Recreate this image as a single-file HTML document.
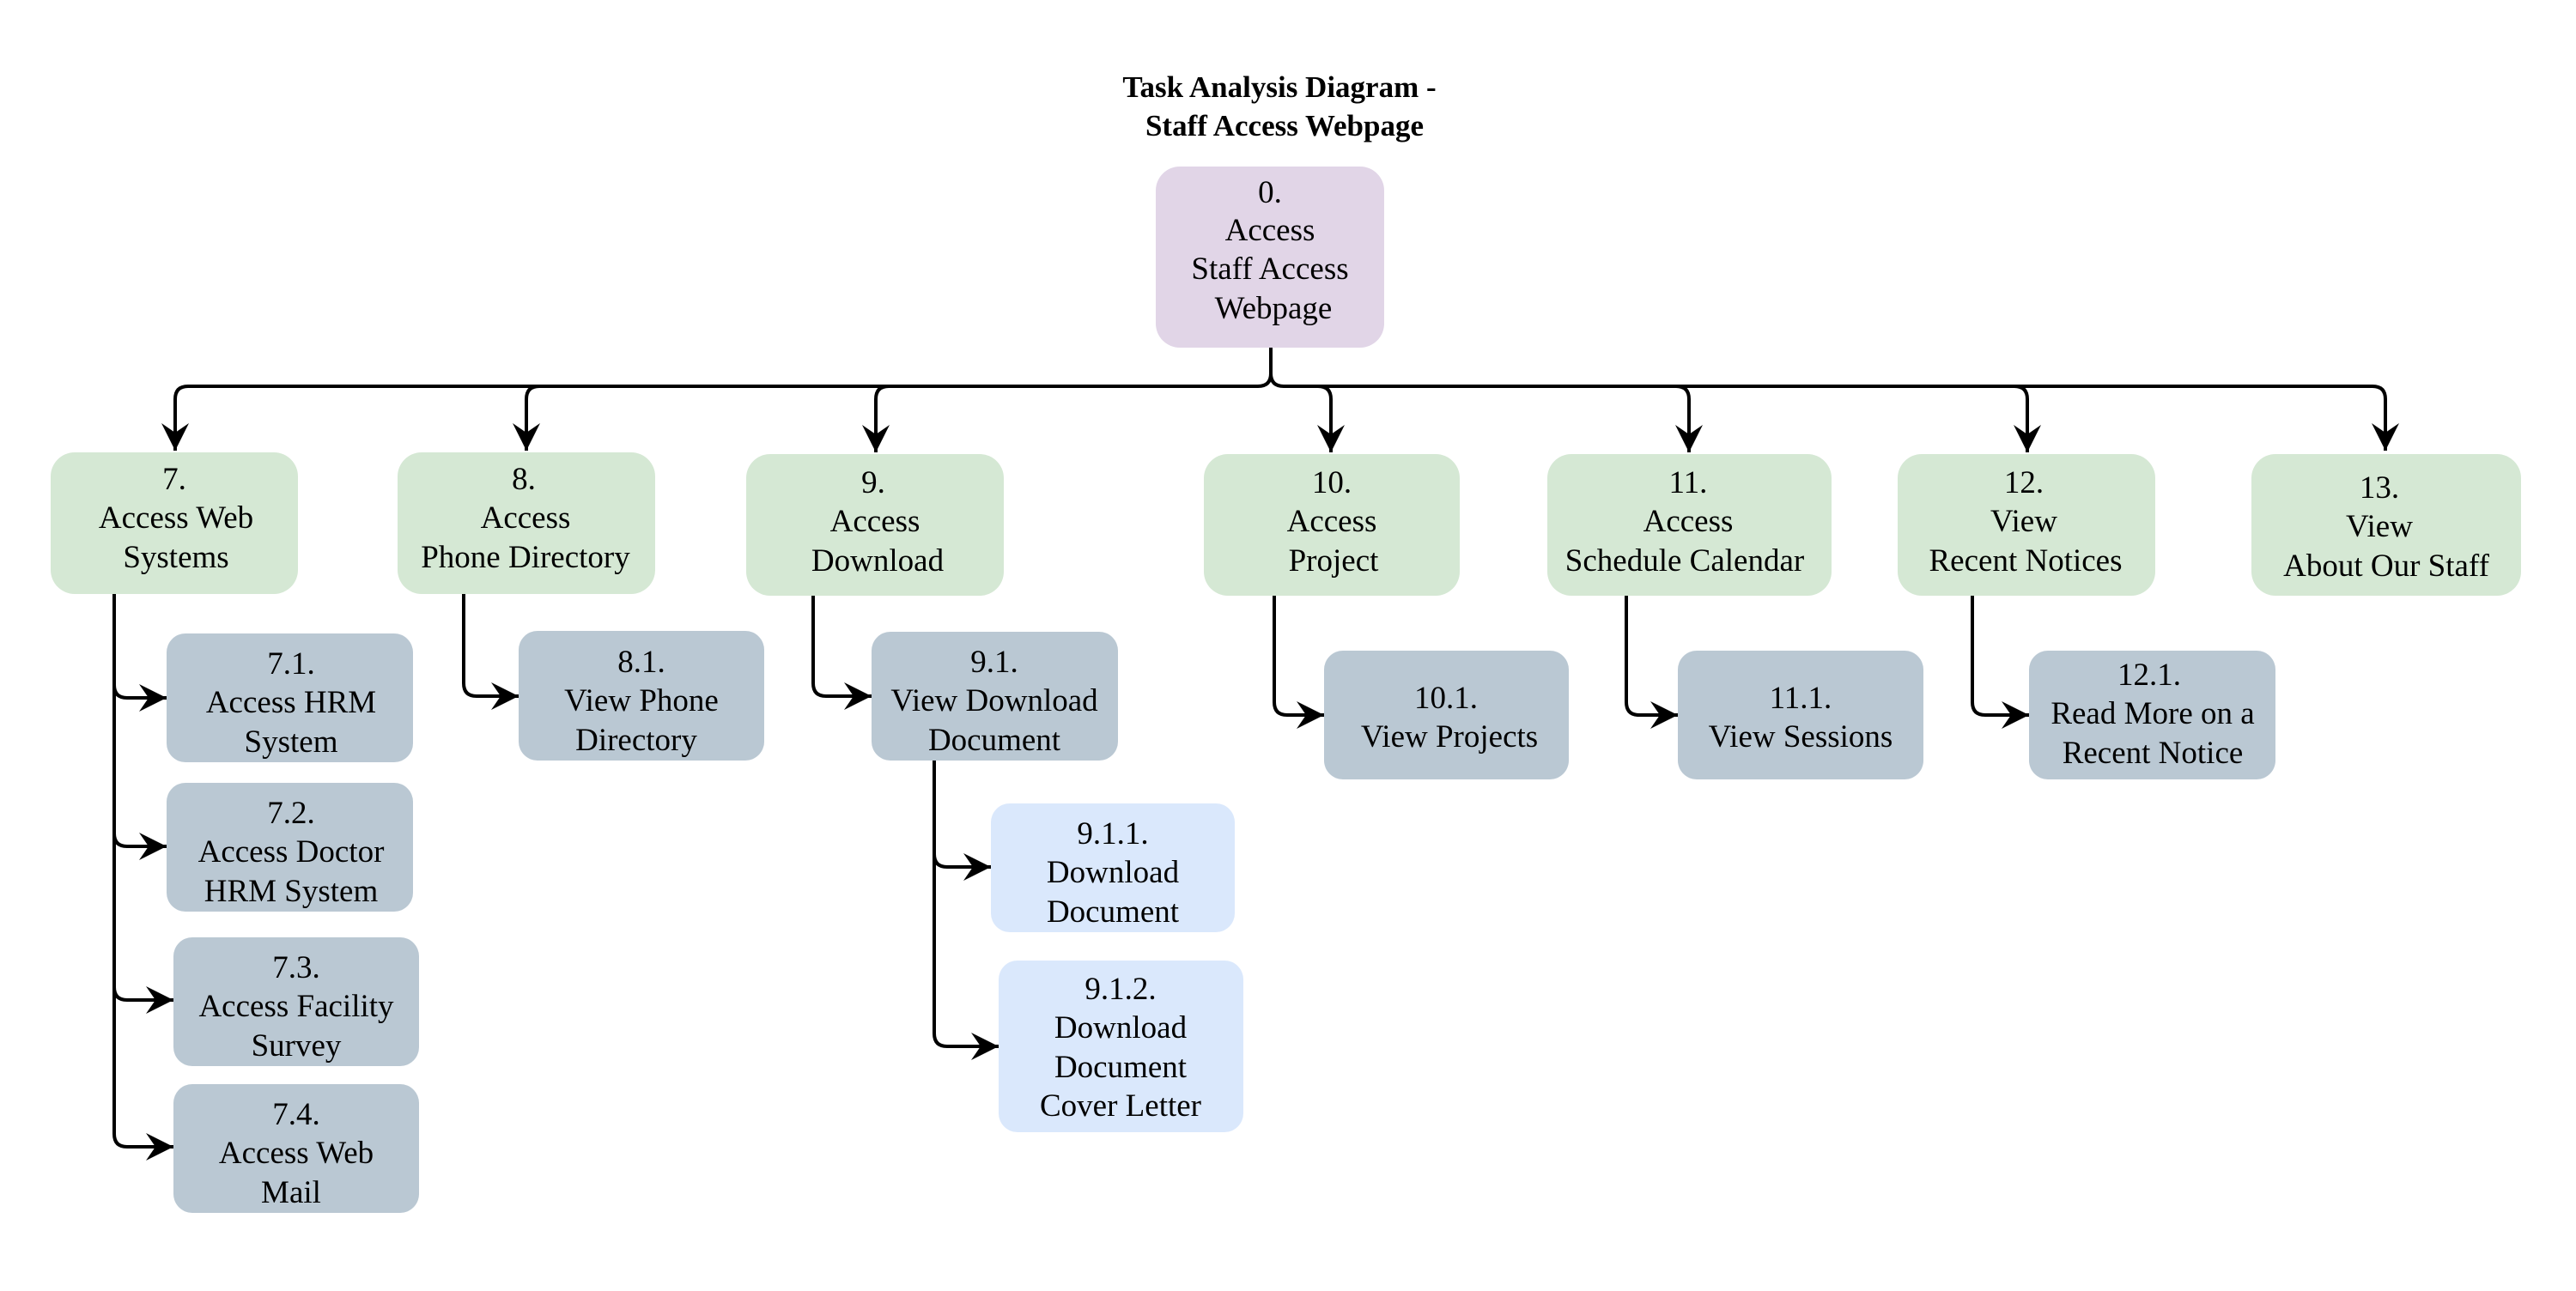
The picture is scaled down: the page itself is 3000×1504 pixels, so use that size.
<!DOCTYPE html>
<html><head><meta charset="utf-8"><style>
html,body{margin:0;padding:0;background:#fff;}
svg{display:block;}
svg text{font-family:"Liberation Serif","Noto Serif CJK SC","Times New Roman",serif;fill:#000;}
</style></head><body>
<svg width="3000" height="1504" viewBox="0 0 3000 1504" xmlns="http://www.w3.org/2000/svg">
<defs>
<marker id="ad" markerWidth="36" markerHeight="36" refX="0" refY="0" orient="auto" markerUnits="userSpaceOnUse" viewBox="-36 -18 36 36">
<path d="M0,0 L-32,-16 L-21,0 L-32,16 Z" fill="#000"/>
</marker>
</defs>
<g font-size="35" font-weight="bold" text-anchor="middle">
<text x="1490" y="113">Task Analysis Diagram -</text>
<text x="1496" y="158">Staff Access Webpage</text>
</g>

<g fill="none" stroke="#000" stroke-width="4">
<path d="M1480,405 V435 Q1480,450 1465,450 H219 Q204,450 204,465 V525" marker-end="url(#ad)"/>
<path d="M1480,435 Q1480,450 1495,450 H2763 Q2778,450 2778,465 V525" marker-end="url(#ad)"/>
<path d="M628,450 Q613,450 613,465 V525" marker-end="url(#ad)"/>
<path d="M1035,450 Q1020,450 1020,465 V527" marker-end="url(#ad)"/>
<path d="M1535,450 Q1550,450 1550,465 V527" marker-end="url(#ad)"/>
<path d="M1952,450 Q1967,450 1967,465 V527" marker-end="url(#ad)"/>
<path d="M2346,450 Q2361,450 2361,465 V527" marker-end="url(#ad)"/>

<path d="M133,691 V798 Q133,813 148,813 H194" marker-end="url(#ad)"/>
<path d="M133,798 V971 Q133,986 148,986 H194" marker-end="url(#ad)"/>
<path d="M133,971 V1150 Q133,1165 148,1165 H202" marker-end="url(#ad)"/>
<path d="M133,1150 V1321 Q133,1336 148,1336 H202" marker-end="url(#ad)"/>

<path d="M540,691 V796 Q540,811 555,811 H604" marker-end="url(#ad)"/>
<path d="M947,694 V796 Q947,811 962,811 H1015" marker-end="url(#ad)"/>
<path d="M1088,886 V995 Q1088,1010 1103,1010 H1154" marker-end="url(#ad)"/>
<path d="M1088,995 V1204 Q1088,1219 1103,1219 H1163" marker-end="url(#ad)"/>
<path d="M1484,694 V818 Q1484,833 1499,833 H1542" marker-end="url(#ad)"/>
<path d="M1894,694 V818 Q1894,833 1909,833 H1954" marker-end="url(#ad)"/>
<path d="M2297,694 V818 Q2297,833 2312,833 H2363" marker-end="url(#ad)"/>
</g>

<g>
<rect x="1346" y="194" width="266" height="211" rx="28" fill="#e1d5e7"/>
<rect x="59" y="527" width="288" height="165" rx="28" fill="#d5e8d4"/>
<rect x="463" y="527" width="300" height="165" rx="28" fill="#d5e8d4"/>
<rect x="869" y="529" width="300" height="165" rx="28" fill="#d5e8d4"/>
<rect x="1402" y="529" width="298" height="165" rx="28" fill="#d5e8d4"/>
<rect x="1802" y="529" width="331" height="165" rx="28" fill="#d5e8d4"/>
<rect x="2210" y="529" width="300" height="165" rx="28" fill="#d5e8d4"/>
<rect x="2622" y="529" width="314" height="165" rx="28" fill="#d5e8d4"/>

<rect x="194" y="738" width="287" height="150" rx="22" fill="#bac8d3"/>
<rect x="194" y="912" width="287" height="150" rx="22" fill="#bac8d3"/>
<rect x="202" y="1092" width="286" height="150" rx="22" fill="#bac8d3"/>
<rect x="202" y="1263" width="286" height="150" rx="22" fill="#bac8d3"/>
<rect x="604" y="735" width="286" height="151" rx="22" fill="#bac8d3"/>
<rect x="1015" y="736" width="287" height="150" rx="22" fill="#bac8d3"/>
<rect x="1154" y="936" width="284" height="150" rx="22" fill="#dae8fc"/>
<rect x="1163" y="1119" width="285" height="200" rx="22" fill="#dae8fc"/>
<rect x="1542" y="758" width="285" height="150" rx="22" fill="#bac8d3"/>
<rect x="1954" y="758" width="286" height="150" rx="22" fill="#bac8d3"/>
<rect x="2363" y="758" width="287" height="150" rx="22" fill="#bac8d3"/>
</g>

<g font-size="37" text-anchor="middle">
<text x="1479" y="236">0.</text><text x="1479" y="280">Access</text><text x="1479" y="325">Staff Access</text><text x="1483" y="371">Webpage</text>

<text x="203" y="570">7.</text><text x="205" y="615">Access Web</text><text x="205" y="661">Systems</text>
<text x="610" y="570">8.</text><text x="612" y="615">Access</text><text x="612" y="661">Phone Directory</text>
<text x="1017" y="574">9.</text><text x="1019" y="619">Access</text><text x="1022" y="665">Download</text>
<text x="1551" y="574">10.</text><text x="1551" y="619">Access</text><text x="1553" y="665">Project</text>
<text x="1966" y="574">11.</text><text x="1966" y="619">Access</text><text x="1962" y="665">Schedule Calendar</text>
<text x="2357" y="574">12.</text><text x="2357" y="619">View</text><text x="2359" y="665">Recent Notices</text>
<text x="2771" y="580">13.</text><text x="2771" y="625">View</text><text x="2779" y="671">About Our Staff</text>

<text x="339" y="785">7.1.</text><text x="339" y="830">Access HRM</text><text x="339" y="876">System</text>
<text x="339" y="959">7.2.</text><text x="339" y="1004">Access Doctor</text><text x="339" y="1050">HRM System</text>
<text x="345" y="1139">7.3.</text><text x="345" y="1184">Access Facility</text><text x="345" y="1230">Survey</text>
<text x="345" y="1310">7.4.</text><text x="345" y="1355">Access Web</text><text x="339" y="1401">Mail</text>
<text x="747" y="783">8.1.</text><text x="747" y="828">View Phone</text><text x="741" y="874">Directory</text>
<text x="1158" y="783">9.1.</text><text x="1158" y="828">View Download</text><text x="1158" y="874">Document</text>
<text x="1296" y="983">9.1.1.</text><text x="1296" y="1028">Download</text><text x="1296" y="1074">Document</text>
<text x="1305" y="1164">9.1.2.</text><text x="1305" y="1209">Download</text><text x="1305" y="1255">Document</text><text x="1305" y="1300">Cover Letter</text>
<text x="1684" y="825">10.1.</text><text x="1688" y="870">View Projects</text>
<text x="2097" y="825">11.1.</text><text x="2097" y="870">View Sessions</text>
<text x="2503" y="798">12.1.</text><text x="2507" y="843">Read More on a</text><text x="2507" y="889">Recent Notice</text>
</g>
</svg>
</body></html>
